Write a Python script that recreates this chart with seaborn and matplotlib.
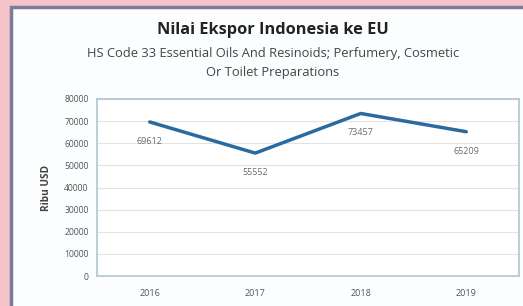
import matplotlib
matplotlib.use("Agg")
import matplotlib.pyplot as plt
import seaborn as sns
import pandas as pd
from matplotlib.patches import Rectangle

years = ["2016", "2017", "2018", "2019"]
values = [69612, 55552, 73457, 65209]
yticks = [0, 10000, 20000, 30000, 40000, 50000, 60000, 70000, 80000]

df = pd.DataFrame({"Tahun": years, "Nilai": values})

sns.set_style("white")
plt.rcParams["font.family"] = ["Open Sans", "DejaVu Sans"]

fig = plt.figure(figsize=(5.23, 3.06), dpi=100)
fig.patch.set_facecolor("#F5C4CB")

# white inner panel with dark border
panel = Rectangle((11 / 523, -0.05), 1.0, 1 - 7 / 306 + 0.05, transform=fig.transFigure,
                  facecolor="#FBFDFE", edgecolor="#7F7B96", linewidth=2.5, zorder=-5)
fig.patches.append(panel)

ax = fig.add_axes([97 / 523, 30 / 306, 422 / 523, 177 / 306])
ax.set_zorder(2)
ax.set_facecolor("white")
sns.lineplot(data=df, x="Tahun", y="Nilai", ax=ax, color="#2B6A9E", linewidth=2.5, sort=False)

for i, v in enumerate(values):
    ax.annotate(str(v), (i, v), xytext=(0, -14), textcoords="offset points",
                ha="center", va="center", fontsize=6.5, color="#6B6B6B")

ax.set_xlim(-0.5, 3.5)
ax.set_ylim(0, 80000)
ax.set_yticks(yticks)
ax.set_yticklabels([str(t) for t in yticks])
ax.yaxis.grid(True, color="#E6E0E0", linewidth=0.8)
ax.set_axisbelow(True)
ax.tick_params(axis="both", length=0, labelcolor="#555555")
ax.tick_params(axis="x", pad=9, labelsize=6.5)
ax.tick_params(axis="y", pad=6, labelsize=6.2)
ax.set_xlabel("")
ax.set_ylabel("Ribu USD", fontsize=7.3, fontweight="bold", color="#444444", labelpad=9)
for s in ax.spines.values():
    s.set_color("#AFC6D0")
    s.set_linewidth(1.2)

fig.text(273 / 523, 1 - 30 / 306, "Nilai Ekspor Indonesia ke EU", ha="center", va="center",
         fontsize=11.8, fontweight="bold", color="#222222")
fig.text(273 / 523, 1 - 53 / 306, "HS Code 33 Essential Oils And Resinoids; Perfumery, Cosmetic",
         ha="center", va="center", fontsize=9.3, color="#444444")
fig.text(273 / 523, 1 - 72 / 306, "Or Toilet Preparations",
         ha="center", va="center", fontsize=9.3, color="#444444")

fig.savefig("out.png", dpi=100, facecolor=fig.get_facecolor())
